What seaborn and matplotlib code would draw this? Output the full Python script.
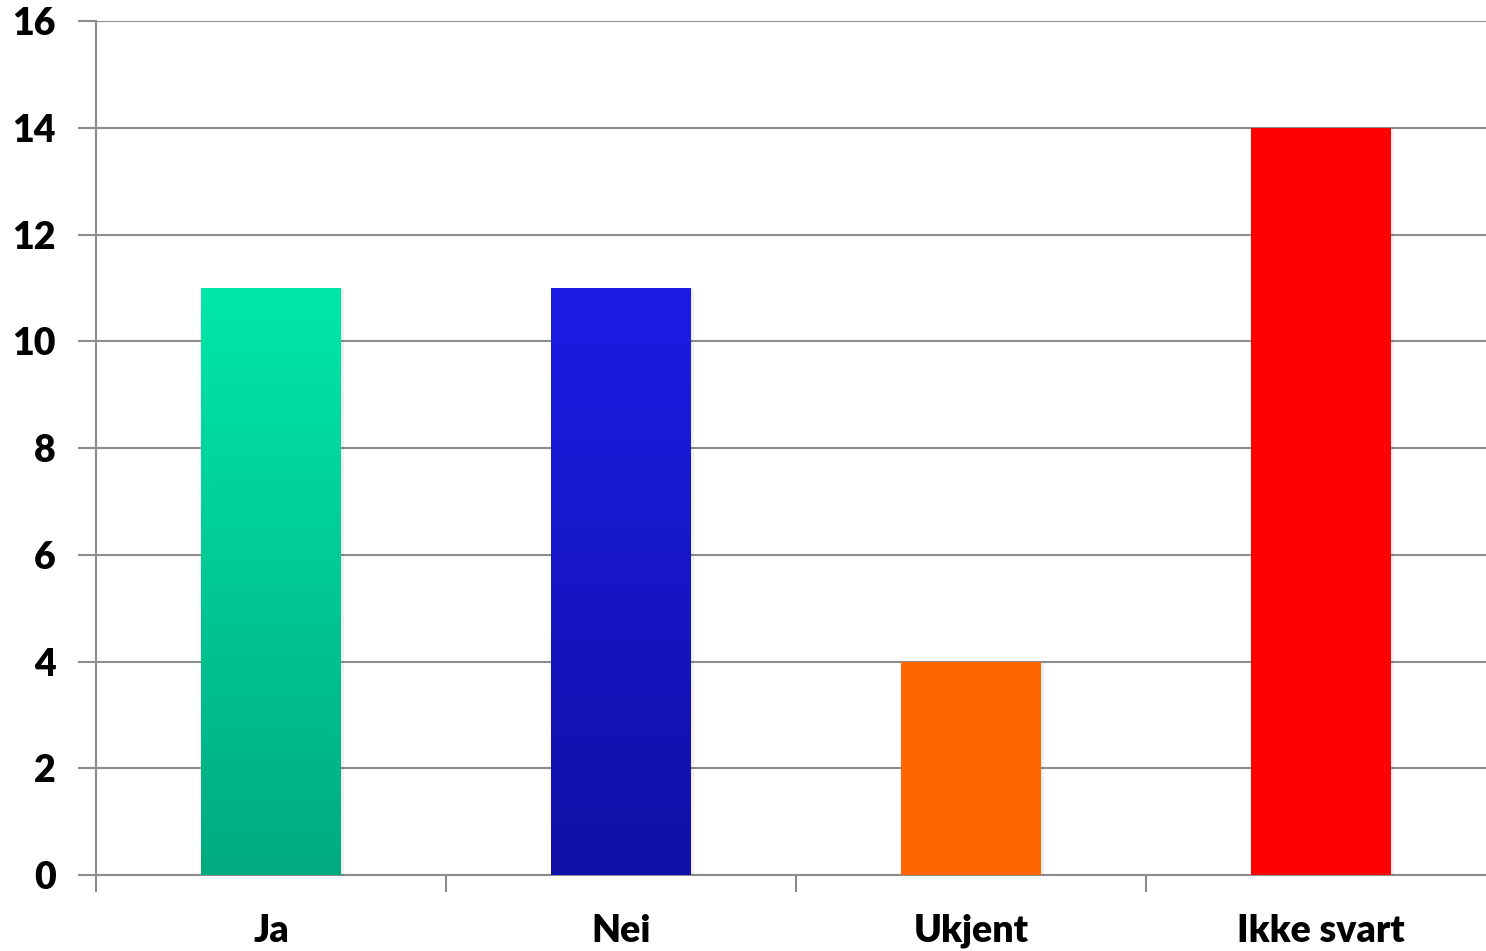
import matplotlib
matplotlib.use('Agg')
import matplotlib.pyplot as plt
import matplotlib.patheffects as pe
from matplotlib.colors import LinearSegmentedColormap
import numpy as np
import pandas as pd
import seaborn as sns

categories = ['Ja', 'Nei', 'Ukjent', 'Ikke svart']
values = [11, 11, 4, 14]
bar_top_colors = ['#00e8a8', '#1c1ce6', '#ff6600', '#ff0000']
bar_bottom_colors = ['#00ab7f', '#1010a6', '#ff6600', '#ff0000']

sns.set_theme(style='white')
plt.rcParams['font.family'] = ['Lato', 'DejaVu Sans']

df = pd.DataFrame({'svar': categories, 'antall': values})

fig = plt.figure(figsize=(14.86, 9.51), dpi=100)
ax = fig.add_axes([96 / 1486, 76 / 951, 1400 / 1486, 854 / 951])

sns.barplot(data=df, x='svar', y='antall', hue='svar', palette=bar_top_colors,
            width=0.4, saturation=1, legend=False, linewidth=0, ax=ax, zorder=3)

# gradient fill + soft shadow on each bar
for patch, c_top, c_bot in zip(ax.patches, bar_top_colors, bar_bottom_colors):
    patch.set_linewidth(0)
    patch.set_path_effects([pe.SimplePatchShadow(offset=(2, -1), shadow_rgbFace='#000000', alpha=0.06),
                            pe.Normal()])
    if c_top != c_bot:
        x0, y0 = patch.get_x(), patch.get_y()
        w, h = patch.get_width(), patch.get_height()
        cmap = LinearSegmentedColormap.from_list('g', [c_bot, c_top])
        grad = np.linspace(0, 1, 256).reshape(-1, 1)
        im = ax.imshow(grad, cmap=cmap, origin='lower', aspect='auto',
                       extent=(x0, x0 + w, y0, y0 + h), zorder=4)
        im.set_clip_path(patch)

ax.set_xlim(-0.5, len(categories) - 0.5)
ax.set_ylim(0, 16)
ax.set_yticks(range(0, 17, 2))
ax.yaxis.grid(True, color='#8c8c8c', linewidth=1.5, zorder=0)
ax.set_axisbelow(True)

# category separators as major ticks, labels on minor ticks
ax.set_xticks(np.arange(-0.5, len(categories), 1))
ax.set_xticklabels([])
ax.set_xticks(range(len(categories)), minor=True)
ax.set_xticklabels(categories, minor=True)
ax.tick_params(axis='x', which='major', length=12, width=1.5, color='#8c8c8c', direction='out', bottom=True)
ax.tick_params(axis='x', which='minor', length=0, pad=28, labelsize=27)
ax.tick_params(axis='y', length=13, width=1.5, color='#8c8c8c', direction='out', left=True,
               pad=16, labelsize=27)
for lab in ax.get_xticklabels(minor=True) + ax.get_yticklabels():
    lab.set_fontweight('heavy')
    lab.set_color('black')

for s in ['top', 'right']:
    ax.spines[s].set_visible(False)
for s in ['left', 'bottom']:
    ax.spines[s].set_color('#8c8c8c')
    ax.spines[s].set_linewidth(1.5)

ax.set_xlabel('')
ax.set_ylabel('')

fig.savefig('out.png', dpi=100)
